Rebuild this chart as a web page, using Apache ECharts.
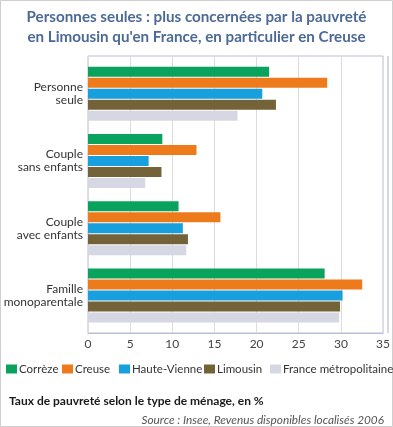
<!DOCTYPE html>
<html><head><meta charset="utf-8">
<script src="https://cdn.jsdelivr.net/npm/echarts@6/dist/echarts.min.js"></script>
<style>html,body{margin:0;padding:0;background:#fff}#c{width:393px;height:427px}</style>
</head><body><div id="c"></div>
<script>
const categories = ['Personne\nseule', 'Couple\nsans enfants', 'Couple\navec enfants', 'Famille\nmonoparentale'];
const seriesNames = ['Corrèze', 'Creuse', 'Haute-Vienne', 'Limousin', 'France métropolitaine'];
const correze = [21.2, 8.7, 10.6, 27.7];
const creuse = [28.0, 12.7, 15.5, 32.1];
const hauteVienne = [20.4, 7.1, 11.1, 29.8];
const limousin = [22.0, 8.6, 11.7, 29.5];
const france = [17.5, 6.7, 11.5, 29.4];
const xMin = 0, xMax = 35, xStep = 5;

const colors = ['#0aa35e', '#ee7b1b', '#17a0dd', '#746338', '#d5d8e2'];
const values = [correze, creuse, hauteVienne, limousin, france];
const FONT = 'Lato';
const legendLeft = [6, 62, 119, 204, 270];

const chart = echarts.init(document.getElementById('c'), null, {renderer: 'canvas'});
chart.setOption({
  animation: false,
  textStyle: {fontFamily: FONT},
  title: [{
    text: "Personnes seules : plus concernées par la pauvreté\nen Limousin qu'en France, en particulier en Creuse",
    left: 'center', top: 2,
    textStyle: {fontFamily: FONT, fontSize: 15.2, fontWeight: 'bold', color: '#4d6a97', lineHeight: 20}
  }, {
    text: 'Taux de pauvreté selon le type de ménage, en %',
    left: 4, top: 390,
    textStyle: {fontFamily: FONT, fontSize: 12, fontWeight: 'bold', color: '#1a1a1a'}
  }, {
    text: 'Source : Insee, Revenus disponibles localisés 2006',
    right: 4, top: 409,
    textStyle: {fontFamily: FONT, fontSize: 11.8, fontStyle: 'italic', fontWeight: 'normal', color: '#555'}
  }],
  legend: seriesNames.map((n, i) => ({
    data: [n], left: legendLeft[i], top: 363, padding: 0, itemWidth: 11, itemHeight: 9, itemGap: 0,
    icon: 'rect',
    textStyle: {fontFamily: FONT, fontSize: 11.5, color: '#333', padding: [0, 0, 0, -3]},
    selectedMode: false
  })),
  graphic: [{
    type: 'rect', shape: {x: 0.5, y: 0.5, width: 392, height: 426},
    style: {fill: 'none', stroke: '#cfcfcf', lineWidth: 1}, silent: true
  }, {
    type: 'line', shape: {x1: 388, y1: 56, x2: 388, y2: 333},
    style: {stroke: '#d3d7e6', lineWidth: 2}, silent: true, z: 10
  }],
  grid: [
    {left: 88, right: 6, top: 56, height: 277, show: true, borderColor: '#b9bfd6', borderWidth: 1, backgroundColor: 'transparent'},
    {left: 88, right: 6, top: 60, height: 269}
  ],
  xAxis: [{
    gridIndex: 0, type: 'value', min: xMin, max: xMax, interval: xStep,
    axisLine: {show: true, lineStyle: {color: '#b9bfd6'}},
    axisTick: {show: false},
    splitLine: {show: true, lineStyle: {color: '#dcdcdc'}},
    axisLabel: {fontFamily: FONT, fontSize: 12, color: '#444', margin: 5}
  }, {
    gridIndex: 1, type: 'value', min: xMin, max: xMax, show: false
  }],
  yAxis: [{
    gridIndex: 0, type: 'value', show: false
  }, {
    gridIndex: 1, type: 'category', data: categories, inverse: true,
    axisLine: {show: false}, axisTick: {show: false},
    axisLabel: {fontFamily: FONT, fontSize: 12, color: '#333', lineHeight: 13, margin: 5, align: 'right'}
  }],
  series: seriesNames.map((n, i) => ({
    name: n, type: 'bar', xAxisIndex: 1, yAxisIndex: 1,
    data: values[i], barWidth: 10, barGap: '10%',
    itemStyle: {color: colors[i]}
  }))
});
</script></body></html>
